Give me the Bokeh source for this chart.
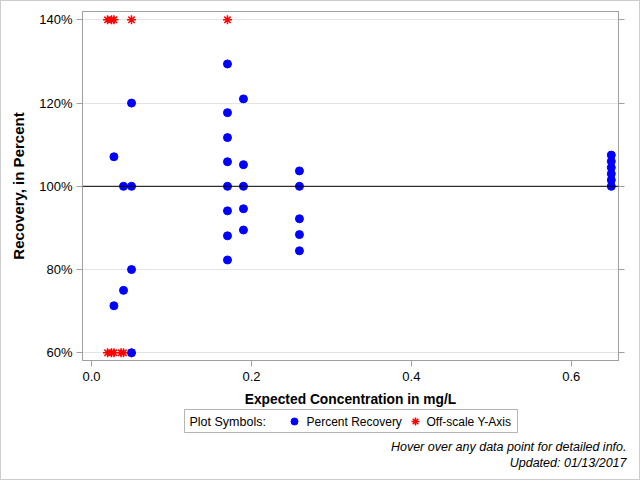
from bokeh.plotting import figure
from bokeh.layouts import column
from bokeh.models import (Span, Label, Title, FixedTicker, LinearAxis, CustomJSTickFormatter, Range1d)
from bokeh.embed import file_html
from bokeh.resources import INLINE

# ---- data ----
conc_recovery = [0.028, 0.028, 0.04, 0.04, 0.05, 0.05, 0.05, 0.05,
                 0.17, 0.17, 0.17, 0.17, 0.17, 0.17, 0.17, 0.17,
                 0.19, 0.19, 0.19, 0.19, 0.19,
                 0.26, 0.26, 0.26, 0.26, 0.26,
                 0.65, 0.65, 0.65, 0.65, 0.65, 0.65]
pct_recovery = [107.1, 71.3, 100.0, 75.0, 120.0, 100.0, 80.0, 60.0,
                129.4, 117.7, 111.7, 105.9, 100.0, 94.1, 88.1, 82.3,
                121.0, 105.2, 100.0, 94.6, 89.5,
                103.7, 100.0, 92.2, 88.4, 84.5,
                107.5, 106.0, 104.5, 103.0, 101.5, 100.0]
conc_offscale = [0.02, 0.025, 0.028, 0.05, 0.17,
                 0.02, 0.025, 0.028, 0.037, 0.04, 0.05]
pct_offscale = [140, 140, 140, 140, 140,
                60, 60, 60, 60, 60, 60]
y_ticks = [60, 80, 100, 120, 140]
y_tick_labels = ["60%", "80%", "100%", "120%", "140%"]
x_ticks = [0.0, 0.2, 0.4, 0.6]
x_tick_labels = ["0.0", "0.2", "0.4", "0.6"]
reference_pct = 100
footer_lines = ["Hover over any data point for detailed info.", "Updated: 01/13/2017"]

FONT = "Liberation Sans"
GRAY = "#a0a0a0"
BLUE = "#0000ff"
RED = "#ff0000"


def key(t):
    return int(t) if float(t) == int(t) else t


# ---- main plot ----
p = figure(width=638, height=391, output_backend="svg", toolbar_location=None,
           x_range=Range1d(-0.0113, 0.659), y_range=Range1d(58.15, 142.0),
           min_border_left=81, min_border_right=21, min_border_top=10, min_border_bottom=32,
           background_fill_color="white", border_fill_color="white",
           outline_line_color=GRAY, outline_line_width=1)

p.xgrid.visible = False
p.ygrid.ticker = FixedTicker(ticks=y_ticks)
p.ygrid.grid_line_color = "#e4e4e4"

for ax in (p.xaxis[0], p.yaxis[0]):
    ax.axis_line_color = GRAY
    ax.major_tick_line_color = GRAY
    ax.major_tick_out = 6
    ax.major_tick_in = 0
    ax.minor_tick_out = 0
    ax.minor_tick_in = 0
    ax.major_label_text_font = FONT
    ax.major_label_text_font_size = "13px"
    ax.major_label_text_color = "black"

p.xaxis.ticker = FixedTicker(ticks=x_ticks)
p.xaxis.major_label_overrides = {key(t): s for t, s in zip(x_ticks, x_tick_labels)}
p.xaxis.major_label_standoff = 5

p.yaxis.ticker = FixedTicker(ticks=y_ticks)
p.yaxis.major_label_overrides = {key(t): s for t, s in zip(y_ticks, y_tick_labels)}
p.yaxis.axis_label = "Recovery, in Percent"
p.yaxis.axis_label_text_font = FONT
p.yaxis.axis_label_text_font_size = "15px"
p.yaxis.axis_label_text_font_style = "bold"
p.yaxis.axis_label_text_color = "black"
p.yaxis.major_label_standoff = 4
p.yaxis.axis_label_standoff = 9

right = LinearAxis(ticker=FixedTicker(ticks=y_ticks),
                   formatter=CustomJSTickFormatter(code="return ''"),
                   axis_line_color=GRAY, major_tick_line_color=GRAY,
                   major_tick_out=6, major_tick_in=0, minor_tick_out=0, minor_tick_in=0)
p.add_layout(right, "right")

p.add_layout(Span(location=reference_pct, dimension="width", line_color="black", line_width=1))

p.scatter(conc_offscale, pct_offscale, marker="asterisk", size=9,
          line_color=RED, line_width=1.5)
p.scatter(conc_recovery, pct_recovery, marker="circle", size=8,
          fill_color=BLUE, line_color=BLUE)

# ---- footer: x-axis title, legend, notes ----
# the footer frame lines up with the plot frame; coordinates are page pixels
FH = 87
f = figure(width=638, height=FH, output_backend="svg", toolbar_location=None,
           x_range=Range1d(82, 618), y_range=Range1d(47, 0),
           x_axis_location=None, y_axis_location=None,
           min_border_left=0, min_border_right=0,
           min_border_top=0, min_border_bottom=40,
           outline_line_color=None, background_fill_color="white",
           border_fill_color="white")
f.grid.visible = False

f.add_layout(Label(x=350, y=7, text="Expected Concentration in mg/L",
                   text_align="center", text_baseline="middle", text_font=FONT,
                   text_font_style="bold", text_font_size="13.8px", text_color="black"))

f.quad(left=[184], right=[517], top=[17], bottom=[40], fill_color="white",
       line_color="#b4b4b4", line_width=1)
f.add_layout(Label(x=189, y=29, text="Plot Symbols:", text_align="left",
                   text_baseline="middle", text_font=FONT, text_font_size="12.5px",
                   text_color="black"))
f.scatter([294], [29], marker="circle", size=7, fill_color=BLUE, line_color=BLUE)
f.add_layout(Label(x=306, y=29, text="Percent Recovery", text_align="left",
                   text_baseline="middle", text_font=FONT, text_font_size="12px",
                   text_color="black"))
f.scatter([415], [29], marker="asterisk", size=8, line_color=RED, line_width=1.5)
f.add_layout(Label(x=426, y=29, text="Off-scale Y-Axis", text_align="left",
                   text_baseline="middle", text_font=FONT, text_font_size="12px",
                   text_color="black"))

for line in footer_lines:
    f.add_layout(Title(text=line, align="right", offset=-8, vertical_align="top", standoff=0,
                       text_font=FONT, text_font_style="italic", text_font_size="12.5px",
                       text_color="black"), "below")

layout = column(p, f, spacing=0)
layout.styles = {"border": "1px solid #cccccc"}

open("out.html", "w").write(file_html(layout, INLINE))
